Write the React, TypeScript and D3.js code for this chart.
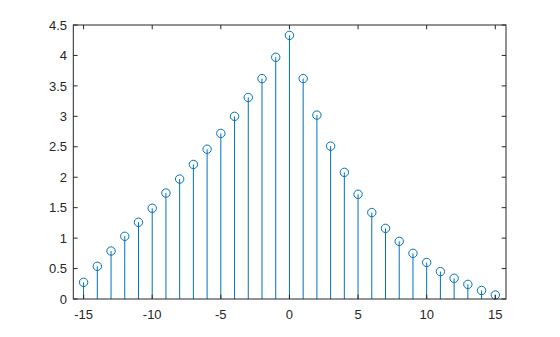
import React from "react";
import * as d3 from "d3";

const xValues = [-15, -14, -13, -12, -11, -10, -9, -8, -7, -6, -5, -4, -3, -2, -1, 0, 1, 2, 3, 4, 5, 6, 7, 8, 9, 10, 11, 12, 13, 14, 15];
const yValues = [0.274, 0.537, 0.788, 1.03, 1.26, 1.49, 1.74, 1.97, 2.21, 2.46, 2.72, 3.0, 3.31, 3.62, 3.97, 4.33, 3.62, 3.02, 2.51, 2.08, 1.72, 1.42, 1.16, 0.947, 0.75, 0.6, 0.45, 0.34, 0.24, 0.14, 0.066];
const xTicks = [-15, -10, -5, 0, 5, 10, 15];
const yTicks = [0, 0.5, 1, 1.5, 2, 2.5, 3, 3.5, 4, 4.5];

const W = 560;
const H = 337;
const left = 73.3;
const right = 506;
const top = 25;
const bottom = 299;
const blue = "#0072BD";
const axisColor = "#262626";

export default function App() {
  const x = d3.scaleLinear().domain([-15.75, 15.78]).range([left, right]);
  const y = d3.scaleLinear().domain([0, 4.5]).range([bottom, top]);
  const tl = 4.3;
  return (
    <div style={{ position: "fixed", left: 0, top: 0 }}>
      <svg width={W} height={H} style={{ display: "block", background: "#fff" }} fontFamily="'Liberation Sans', Arial, sans-serif">
        <rect x={0} y={0} width={W} height={H} fill="#fff" />
        {xValues.map((xv, i) => (
          <g key={i}>
            <line x1={x(xv)} x2={x(xv)} y1={y(0)} y2={y(yValues[i])} stroke={blue} strokeWidth={1} />
            <circle cx={x(xv)} cy={y(yValues[i])} r={4.2} fill="none" stroke={blue} strokeWidth={1} />
          </g>
        ))}
        <rect x={left} y={top} width={right - left} height={bottom - top} fill="none" stroke={axisColor} strokeWidth={1} />
        {xTicks.map((t) => (
          <g key={"x" + t}>
            <line x1={x(t)} x2={x(t)} y1={bottom} y2={bottom - tl} stroke={axisColor} />
            <line x1={x(t)} x2={x(t)} y1={top} y2={top + tl} stroke={axisColor} />
            <text x={x(t)} y={319} textAnchor="middle" fontSize={13} fill={axisColor}>
              {t < 0 ? "-" + Math.abs(t) : String(t)}
            </text>
          </g>
        ))}
        {yTicks.map((t) => (
          <g key={"y" + t}>
            <line x1={left} x2={left + tl} y1={y(t)} y2={y(t)} stroke={axisColor} />
            <line x1={right} x2={right - tl} y1={y(t)} y2={y(t)} stroke={axisColor} />
            <text x={67} y={y(t) + 4.7} textAnchor="end" fontSize={13} fill={axisColor}>
              {String(t)}
            </text>
          </g>
        ))}
      </svg>
    </div>
  );
}
